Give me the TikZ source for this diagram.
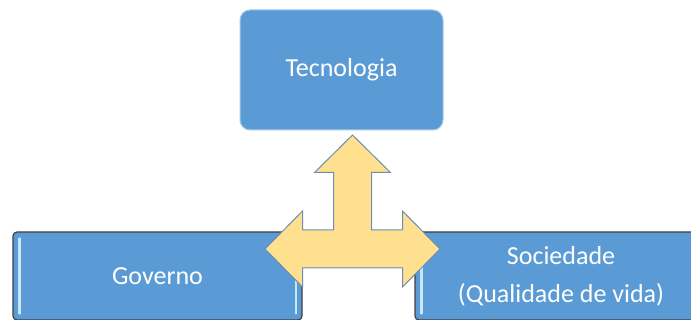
\documentclass[tikz,border=0pt]{standalone}
\usepackage{fontspec}
\setmainfont{Carlito}
\usetikzlibrary{calc}
\definecolor{boxBlue}{HTML}{5B9BD5}
\definecolor{arrowGold}{HTML}{FFE08F}
\definecolor{arrowEdge}{HTML}{6C8EB2}
\definecolor{edgeDark}{HTML}{404040}
\definecolor{shineBlue}{HTML}{C8E6FA}

\begin{document}
\begin{tikzpicture}[x=1pt, y=-1pt,
    blok/.style={fill=boxBlue, text=white, align=center, inner sep=0pt,
        font=\fontsize{26}{38}\selectfont},
    blokDol/.style={blok, draw=edgeDark, line width=1.2pt, rounded corners=4pt,
        minimum height=88pt},
    blysk/.style={draw=shineBlue, line width=2.2pt, line cap=round}]
            % --- PARAMETRY DO MODYFIKACJI ---
            \pgfmathsetmacro{\hubX}{352.5}     % Środek strzałki (x)
            \pgfmathsetmacro{\hubY}{249}       % Środek strzałki (y)
            \pgfmathsetmacro{\shaft}{19}       % Połowa grubości ramienia
            \pgfmathsetmacro{\headW}{38}       % Połowa szerokości grota
            \pgfmathsetmacro{\headL}{37.5}     % Długość grota
            \pgfmathsetmacro{\armUp}{114}      % Ramię w górę
            \pgfmathsetmacro{\armSide}{87.5}   % Ramiona w bok

            % Obszar rysunku
            \useasboundingbox (0,0) rectangle (691,320);
            \clip (0,0) rectangle (691,320);

            % Górny blok
            \node[blok, draw=boxBlue!55!white, line width=1pt, rounded corners=10pt,
                minimum width=203pt, minimum height=120pt] (tech) at (341.5,70) {Tecnologia};

            % Dolne bloki
            \node[blokDol, minimum width=289pt] (gov) at (157.5,276) {Governo};
            \node[blokDol, minimum width=292pt] (soc) at (561,276) {Sociedade\\(Qualidade de vida)};

            % Jasne paski przy krawędziach
            \draw[blysk] ([xshift=7pt,yshift=-7pt]gov.north west) -- ([xshift=7pt,yshift=7pt]gov.south west);
            \draw[blysk] ([xshift=-7pt,yshift=-7pt]gov.north east) -- ([xshift=-7pt,yshift=7pt]gov.south east);
            \draw[blysk] ([xshift=7pt,yshift=-7pt]soc.north west) -- ([xshift=7pt,yshift=7pt]soc.south west);

            % Strzałka w trzy strony
            \coordinate (hub) at (\hubX,\hubY);
            \draw[fill=arrowGold, draw=arrowEdge, line width=1pt, line join=miter]
                ($(hub)+(0,-\armUp)$)
                -- ++(\headW,\headL) -- ++(-\headW+\shaft,0)
                |- ($(hub)+(\armSide-\headL,-\shaft)$)
                -- ++(0,\shaft-\headW) -- ($(hub)+(\armSide,0)$)
                -- ($(hub)+(\armSide-\headL,\headW)$) -- ++(0,\shaft-\headW)
                -- ($(hub)+(-\armSide+\headL,\shaft)$)
                -- ++(0,\headW-\shaft) -- ($(hub)+(-\armSide,0)$)
                -- ($(hub)+(-\armSide+\headL,-\headW)$) -- ++(0,\headW-\shaft)
                -| ($(hub)+(-\shaft,-\armUp+\headL)$)
                -- ++(\shaft-\headW,0) -- cycle;
\end{tikzpicture}
\end{document}
